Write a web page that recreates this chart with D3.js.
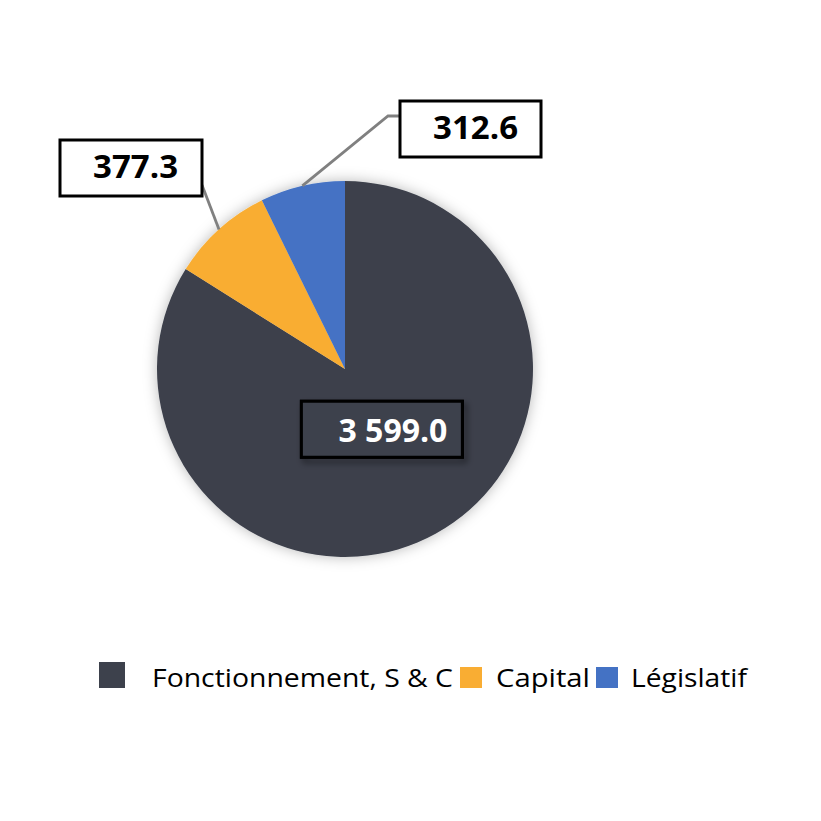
<!DOCTYPE html>
<html>
<head>
<meta charset="utf-8">
<script src="https://cdn.jsdelivr.net/npm/d3@7"></script>
<style>
  html, body { margin: 0; padding: 0; background: #ffffff; }
  svg { display: block; }
</style>
</head>
<body>
<script>
// ---- data ----
const categories = ["Fonctionnement, S & C", "Capital", "Législatif"];
const values = [3599.0, 377.3, 312.6];
const labels = ["3 599.0", "377.3", "312.6"];
const colors = ["#3d414c", "#f9ad33", "#4472c4"];

const W = 821, H = 821;
const cx = 345, cy = 369, R = 188;

const svg = d3.select("body").append("svg").attr("width", W).attr("height", H);
const defs = svg.append("defs");

const glow = defs.append("filter").attr("id", "pieShadow")
  .attr("x", "-20%").attr("y", "-20%").attr("width", "140%").attr("height", "140%");
glow.append("feDropShadow").attr("dx", 0).attr("dy", 0).attr("stdDeviation", 7)
  .attr("flood-color", "#000").attr("flood-opacity", 0.28);

const boxSh = defs.append("filter").attr("id", "boxShadow")
  .attr("x", "-20%").attr("y", "-30%").attr("width", "140%").attr("height", "160%");
boxSh.append("feDropShadow").attr("dx", 3).attr("dy", 4).attr("stdDeviation", 3)
  .attr("flood-color", "#000").attr("flood-opacity", 0.55);

const data = categories.map((c, i) => ({ cat: c, value: values[i], label: labels[i], color: colors[i] }));

const pie = d3.pie().sort(null).value(d => d.value).startAngle(0).endAngle(2 * Math.PI);
const arcs = pie(data);
const arc = d3.arc().innerRadius(0).outerRadius(R);
const edgeArc = d3.arc().innerRadius(R).outerRadius(R);
const innerLabelArc = d3.arc().innerRadius(70).outerRadius(70);

const g = svg.append("g").attr("transform", `translate(${cx},${cy})`);
g.append("g").attr("filter", "url(#pieShadow)")
  .selectAll("path").data(arcs).enter().append("path")
  .attr("d", arc).attr("fill", d => d.data.color);

const labelFont = "'Open Sans', 'Noto Sans', sans-serif";

// outside label boxes (relative to pie centre)
const outside = {
  1: { box: [-285, -229, 142, 56], textRight: 24 },
  2: { box: [55, -268, 141, 56], textRight: 23 }
};

arcs.forEach((a, i) => {
  if (i === 0) {
    const c = innerLabelArc.centroid(a);
    const bw = 161, bh = 56;
    const bx = c[0] - bw / 2 + 3, by = c[1] - bh / 2 - 1;
    g.append("rect").attr("x", bx).attr("y", by).attr("width", bw).attr("height", bh)
      .attr("fill", "none").attr("stroke", "#000").attr("stroke-width", 3)
      .attr("filter", "url(#boxShadow)");
    g.append("rect").attr("x", bx).attr("y", by).attr("width", bw).attr("height", bh)
      .attr("fill", a.data.color).attr("stroke", "#000").attr("stroke-width", 3);
    g.append("text").attr("x", bx + bw - 15).attr("y", by + 41)
      .attr("text-anchor", "end").attr("font-family", labelFont)
      .attr("font-weight", 700).attr("font-size", 32).attr("fill", "#ffffff")
      .text(a.data.label);
  } else {
    const o = outside[i];
    const b = o.box;
    const p = edgeArc.centroid(a);
    const linePts = [p];
    if (i === 1) { linePts.push([b[0] + b[2], b[1] + 45]); }
    else { linePts.push([b[0] - 12, b[1] + 15]); linePts.push([b[0], b[1] + 15]); }
    g.append("path").attr("d", d3.line()(linePts))
      .attr("fill", "none").attr("stroke", "#808080").attr("stroke-width", 2.8);
    g.append("rect").attr("x", b[0]).attr("y", b[1]).attr("width", b[2]).attr("height", b[3])
      .attr("fill", "#ffffff").attr("stroke", "#000").attr("stroke-width", 3);
    g.append("text").attr("x", b[0] + b[2] - o.textRight).attr("y", b[1] + 38)
      .attr("text-anchor", "end").attr("font-family", labelFont)
      .attr("font-weight", 700).attr("font-size", 33).attr("fill", "#000")
      .text(a.data.label);
  }
});

// legend
const legendFont = "'Open Sans', 'Noto Sans', sans-serif";
const lg = svg.append("g");
const sq = [
  { x: 99, y: 662, w: 26, h: 26, gap: 27 },
  { x: 460, y: 667, w: 22, h: 21, gap: 14 },
  { x: 596, y: 667, w: 22, h: 21, gap: 13 }
];
const textEnds = [453, 590, 747];
data.forEach((d, i) => {
  const s = sq[i];
  lg.append("rect").attr("x", s.x).attr("y", s.y).attr("width", s.w).attr("height", s.h)
    .attr("fill", d.color);
  const tx = s.x + s.w + s.gap;
  lg.append("text").attr("x", tx).attr("y", 687)
    .attr("font-family", legendFont).attr("font-size", 25).attr("fill", "#000")
    .attr("textLength", textEnds[i] - tx).attr("lengthAdjust", "spacingAndGlyphs")
    .text(d.cat);
});
</script>
</body>
</html>
